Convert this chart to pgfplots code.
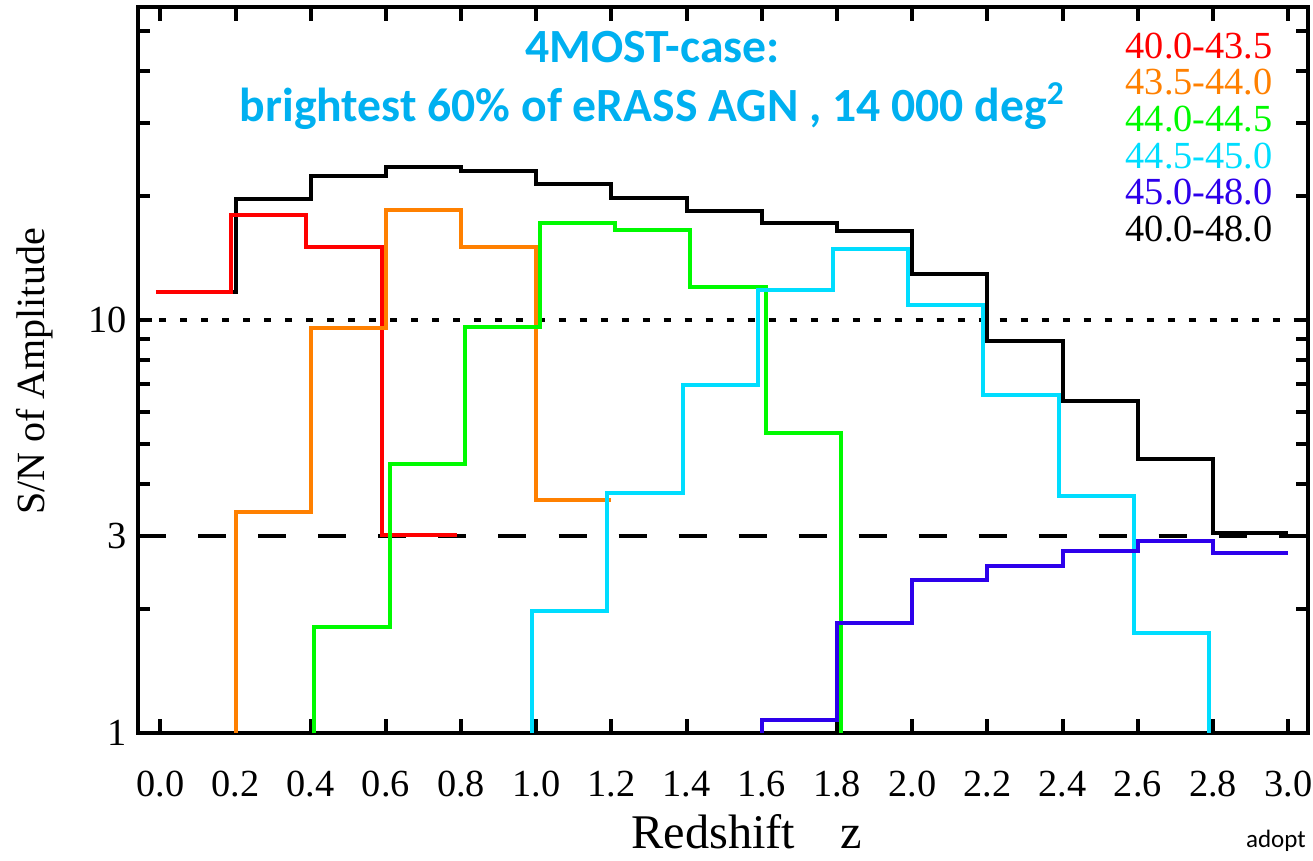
\documentclass[border=0pt]{standalone}
\usepackage{fontspec}
\setmainfont{Liberation Serif}
\newfontfamily\calibri{Carlito}
\usepackage{pgfplots}
\pgfplotsset{compat=1.18}
\definecolor{ttlblue}{RGB}{0,176,240}
\definecolor{cRed}{RGB}{255,0,0}
\definecolor{cOrange}{RGB}{255,128,0}
\definecolor{cGreen}{RGB}{0,250,0}
\definecolor{cCyan}{RGB}{0,221,255}
\definecolor{cBlue}{RGB}{45,0,235}
\begin{document}
\begin{tikzpicture}
\begin{axis}[
  name=ax,
  scale only axis, width=350.8pt, height=217.8pt,
  xmin=-0.058, xmax=3.052,
  ymode=log, ymin=1, ymax=57.3,
  axis line style={line width=1.2pt},
  xtick={0,0.2,0.4,0.6,0.8,1.0,1.2,1.4,1.6,1.8,2.0,2.2,2.4,2.6,2.8,3.0},
  xticklabels={0.0,0.2,0.4,0.6,0.8,1.0,1.2,1.4,1.6,1.8,2.0,2.2,2.4,2.6,2.8,3.0},
  ytick={1,3,10}, yticklabels={1,3,10},
  minor ytick={2,4,5,6,7,8,9,20,30,40,50},
  tick style={line width=1.2pt, black},
  major tick length=4.2pt, minor tick length=3.6pt,
  tick align=inside,
  tick label style={font=\fontsize{11.5}{13}\selectfont},
  xticklabel style={yshift=-8pt},
  /pgf/number format/assume math mode=true,
  xlabel={Redshift\hspace{13.5pt}z},
  ylabel={S/N of Amplitude},
  every axis x label/.style={at={(axis description cs:0.520,-0.1595)}, anchor=base, inner sep=0pt, font=\fontsize{14.5}{16}\selectfont},
  every axis y label/.style={at={(axis description cs:-0.080,0.498)}, rotate=90, anchor=base, font=\fontsize{12}{14}\selectfont},
  clip=true,
]
\addplot[black, line width=1.2pt, dash pattern=on 2.1pt off 4.2pt] coordinates {(-0.058,10) (3.052,10)};
\addplot[black, line width=1.2pt, dash pattern=on 8.4pt off 9.6pt] coordinates {(-0.058,3) (3.052,3)};
% 40.0-48.0
\addplot[black, line width=1.2pt, const plot] coordinates {
 (0.0,11.7) (0.2,19.6) (0.4,22.3) (0.6,23.5) (0.8,23.0) (1.0,21.4) (1.2,19.7) (1.4,18.4)
 (1.6,17.2) (1.8,16.4) (2.0,12.9) (2.2,8.9) (2.4,6.38) (2.6,4.62) (2.8,3.05) (3.0,3.05)};
% 40.0-43.5
\addplot[cRed, line width=1.2pt, const plot, xshift=-1.3pt] coordinates {
 (0.0,11.7) (0.2,17.96) (0.4,15.05) (0.6,3.01) (0.8,3.01)};
% 43.5-44.0
\addplot[cOrange, line width=1.2pt, const plot] coordinates {
 (0.2,1) (0.2,3.43) (0.4,9.58) (0.6,18.5) (0.8,15.05) (1.0,3.67) (1.2,3.67)};
% 44.0-44.5
\addplot[cGreen, line width=1.2pt, const plot, xshift=1.1pt] coordinates {
 (0.4,1) (0.4,1.81) (0.6,4.48) (0.8,9.6) (1.0,17.2) (1.2,16.5) (1.4,12.04) (1.6,5.32) (1.8,1)};
% 44.5-45.0
\addplot[cCyan, line width=1.2pt, const plot, xshift=-1.2pt] coordinates {
 (1.0,1) (1.0,1.97) (1.2,3.82) (1.4,6.96) (1.6,11.82) (1.8,14.88) (2.0,10.85) (2.2,6.6)
 (2.4,3.75) (2.6,1.75) (2.8,1)};
% 45.0-48.0
\addplot[cBlue, line width=1.2pt, const plot] coordinates {
 (1.6,1) (1.6,1.075) (1.8,1.85) (2.0,2.35) (2.2,2.54) (2.4,2.76) (2.6,2.92) (2.8,2.73) (3.0,2.73)};

\node[anchor=base, text=ttlblue, font=\calibri\bfseries\fontsize{14.3}{16}\selectfont]
  at (axis description cs:0.4397,0.9229) {4MOST-case:};
\node[anchor=base, text=ttlblue, font=\calibri\bfseries\fontsize{14.3}{16}\selectfont]
  at (axis description cs:0.4397,0.842) {brightest 60\% of eRASS AGN , 14 000 deg\textsuperscript{2}};

\begin{scope}[every node/.style={anchor=base east, inner sep=0pt, font=\fontsize{11.5}{13}\selectfont}]
\node[text=cRed]    at (axis description cs:0.9705,0.9293) {40.0-43.5};
\node[text=cOrange] at (axis description cs:0.9705,0.8789) {43.5-44.0};
\node[text=cGreen]  at (axis description cs:0.9705,0.8285) {44.0-44.5};
\node[text=cCyan]   at (axis description cs:0.9705,0.7781) {44.5-45.0};
\node[text=cBlue]   at (axis description cs:0.9705,0.7277) {45.0-48.0};
\node[text=black]   at (axis description cs:0.9705,0.6773) {40.0-48.0};
\end{scope}

\coordinate (adoptpos) at (axis description cs:0.9466,-0.1584);
\coordinate (bl) at (axis description cs:0,0);
\end{axis}
\node[anchor=base west, inner sep=0pt, font=\calibri\fontsize{7.5}{9}\selectfont] at (adoptpos) {adopt};
\pgfresetboundingbox
\path[use as bounding box] (bl) ++(-41.55pt,-38.4pt) rectangle ++(393.9pt,258.3pt);
\end{tikzpicture}
\end{document}
